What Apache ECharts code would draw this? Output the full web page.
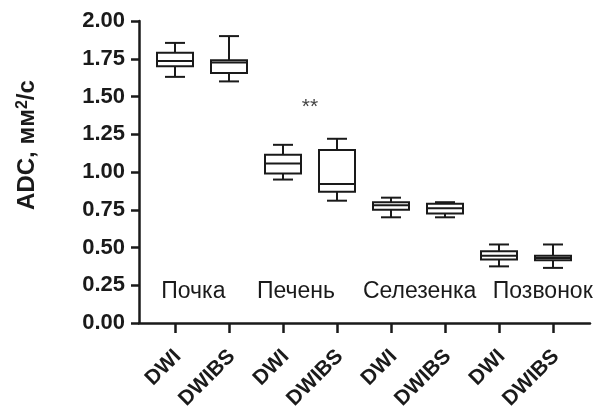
<!DOCTYPE html>
<html>
<head>
<meta charset="utf-8">
<script src="https://cdn.jsdelivr.net/npm/echarts@6/dist/echarts.min.js"></script>
<style>html,body{margin:0;padding:0;background:#fff}#c{width:600px;height:409px}</style>
</head>
<body>
<div id="c"></div>
<script>
// ---- data ----
var categories = ['DWI', 'DWIBS', 'DWI', 'DWIBS', 'DWI', 'DWIBS', 'DWI', 'DWIBS'];
// [min, q1, median, q3, max]
var boxMin    = [1.63, 1.60, 0.95, 0.81, 0.70, 0.70, 0.375, 0.365];
var boxQ1     = [1.70, 1.655, 0.99, 0.87, 0.75, 0.725, 0.42, 0.415];
var boxMedian = [1.735, 1.725, 1.057, 0.92, 0.78, 0.76, 0.445, 0.43];
var boxQ3     = [1.79, 1.74, 1.114, 1.145, 0.80, 0.79, 0.475, 0.445];
var boxMax    = [1.855, 1.90, 1.18, 1.22, 0.83, 0.80, 0.52, 0.52];
var groupNames = ['Почка', 'Печень', 'Селезенка', 'Позвонок'];
var groupLabelX = [0.34, 2.24, 4.53, 6.81];   // position in category units
var groupLabelY = 0.205;
var annotText = ['**'];
var annotX = [2.5];
var annotY = [1.43];
var yTicks = [0, 0.25, 0.5, 0.75, 1.0, 1.25, 1.5, 1.75, 2.0];

var FONT = '"Liberation Sans", Arial, sans-serif';
var INK = '#1a1a1a';

var boxData = categories.map(function (c, i) {
  return [i, boxMin[i], boxQ1[i], boxMedian[i], boxQ3[i], boxMax[i]];
});

function catX(api, v, y) {
  var i0 = Math.floor(v), i1 = Math.min(i0 + 1, categories.length - 1);
  var p0 = api.coord([i0, y]), p1 = api.coord([i1, y]);
  var t = v - i0;
  return [p0[0] + (p1[0] - p0[0]) * t, p0[1]];
}

var chart = echarts.init(document.getElementById('c'), null, {renderer: 'canvas'});
var option = {
  animation: false,
  backgroundColor: '#fff',
  grid: [
    {left: 139, right: 10, top: 21, bottom: 86, containLabel: false, outerBoundsMode: 'none'},
    {left: 175, right: 47, top: 21, bottom: 86, containLabel: false, outerBoundsMode: 'none'}
  ],
  xAxis: [
    {gridIndex: 0, type: 'value', min: 0, max: 1,
     axisLine: {show: true, lineStyle: {color: INK, width: 2.5}},
     axisTick: {show: false}, axisLabel: {show: false}, splitLine: {show: false}},
    {gridIndex: 1, type: 'category', data: categories, boundaryGap: false,
     axisLine: {show: false},
     axisTick: {show: true, length: 10, lineStyle: {color: INK, width: 2.5}},
     axisLabel: {rotate: 45, margin: 33, padding: [0, -4, 0, 0], color: INK, fontSize: 21, fontWeight: 'bold', fontFamily: FONT, interval: 0},
     splitLine: {show: false}}
  ],
  yAxis: [
    {gridIndex: 0, type: 'value', min: 0, max: 2, interval: 0.25,
     axisLine: {show: true, lineStyle: {color: INK, width: 2.5}},
     axisTick: {show: true, length: 8, lineStyle: {color: INK, width: 2.5}},
     axisLabel: {margin: 14, color: INK, fontSize: 22, fontWeight: 'bold', fontFamily: FONT,
                 formatter: function (v) { return v.toFixed(2); }},
     splitLine: {show: false},
     name: '{b|ADC, мм}{s|2}{b|/с}', nameLocation: 'middle', nameRotate: 90, nameGap: 100,
     nameTextStyle: {padding: [0, 0, 0, 54], rich: {
       b: {fontSize: 24, fontWeight: 'bold', fontFamily: FONT, color: INK},
       s: {fontSize: 16, fontWeight: 'bold', fontFamily: FONT, color: INK, verticalAlign: 'top'}
     }}},
    {gridIndex: 1, type: 'value', min: 0, max: 2, show: false}
  ],
  series: [
    {
      type: 'custom', xAxisIndex: 1, yAxisIndex: 1,
      data: boxData,
      renderItem: function (params, api) {
        var i = api.value(0);
        var pMin = api.coord([i, api.value(1)]);
        var pQ1 = api.coord([i, api.value(2)]);
        var pMed = api.coord([i, api.value(3)]);
        var pQ3 = api.coord([i, api.value(4)]);
        var pMax = api.coord([i, api.value(5)]);
        var x = pMed[0], hw = 18, cw = 10;
        var st = {stroke: INK, lineWidth: 2, fill: null};
        return {type: 'group', children: [
          {type: 'rect', shape: {x: x - hw, y: pQ3[1], width: hw * 2, height: pQ1[1] - pQ3[1]}, style: {stroke: INK, lineWidth: 2, fill: '#fff'}},
          {type: 'line', shape: {x1: x - hw, y1: pMed[1], x2: x + hw, y2: pMed[1]}, style: st},
          {type: 'line', shape: {x1: x, y1: pQ3[1], x2: x, y2: pMax[1]}, style: st},
          {type: 'line', shape: {x1: x, y1: pQ1[1], x2: x, y2: pMin[1]}, style: st},
          {type: 'line', shape: {x1: x - cw, y1: pMax[1], x2: x + cw, y2: pMax[1]}, style: st},
          {type: 'line', shape: {x1: x - cw, y1: pMin[1], x2: x + cw, y2: pMin[1]}, style: st}
        ]};
      }
    },
    {
      type: 'custom', xAxisIndex: 1, yAxisIndex: 1,
      data: groupNames.map(function (n, i) { return [groupLabelX[i], groupLabelY]; }),
      renderItem: function (params, api) {
        var p = catX(api, api.value(0), api.value(1));
        return {type: 'text', x: p[0], y: p[1],
          style: {text: groupNames[params.dataIndex], fill: INK, font: '23px ' + FONT, textAlign: 'center', textVerticalAlign: 'middle'}};
      }
    },
    {
      type: 'custom', xAxisIndex: 1, yAxisIndex: 1,
      data: annotText.map(function (t, i) { return [annotX[i], annotY[i]]; }),
      renderItem: function (params, api) {
        var p = catX(api, api.value(0), api.value(1));
        return {type: 'text', x: p[0], y: p[1],
          style: {text: annotText[params.dataIndex], fill: '#444', font: '21px ' + FONT, textAlign: 'center', textVerticalAlign: 'middle'}};
      }
    }
  ]
};
chart.setOption(option);
</script>
</body>
</html>
